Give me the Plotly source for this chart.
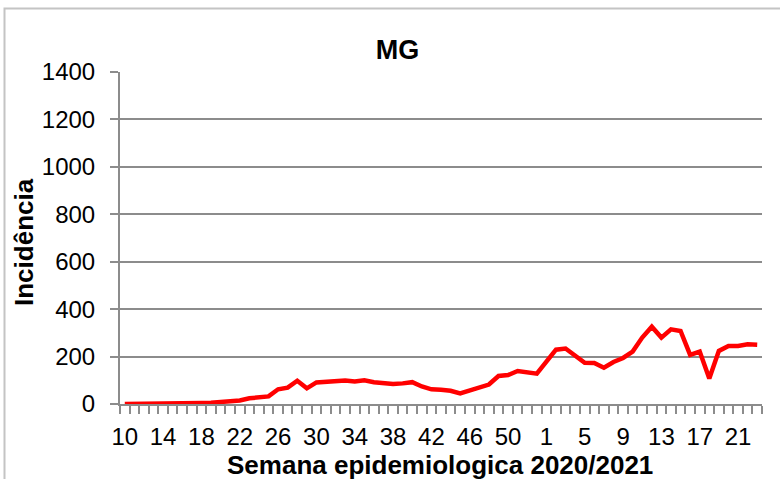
import plotly.graph_objects as go

weeks = [str(w) for w in range(10, 54)] + [str(w) for w in range(1, 24)]
incidencia = [0, 0, 1, 1, 1, 2, 2, 3, 4, 5, 7, 10, 15, 24, 27, 32, 62, 69, 98, 66,
              91, 95, 98, 99, 95, 100, 92, 87, 84, 87, 92, 74, 62, 60, 56, 45, 58, 66,
              82, 118, 122, 139, 134, 128,
              179, 229, 234, 203, 174, 173, 153, 177, 194, 221, 280, 326, 280, 315,
              308, 207, 221, 108, 224, 245, 245, 252, 250]
y_ticks = [0, 200, 400, 600, 800, 1000, 1200, 1400]

FONT = "Liberation Sans, Arial, sans-serif"
GRID = "#8c8c8c"

x_idx = list(range(len(weeks)))
tick_pos = x_idx[::4]
tick_txt = weeks[::4]

fig = go.Figure()
fig.add_trace(go.Scatter(x=x_idx, y=incidencia, mode="lines",
                         line=dict(color="#ff0000", width=4.5), hoverinfo="skip"))

W, H = 780, 479
L, R, T, B = 120, 18, 72, 75
pw, ph = W - L - R, H - T - B

fig.update_layout(
    width=W, height=H,
    margin=dict(l=L, r=R, t=T, b=B, pad=0),
    paper_bgcolor="white", plot_bgcolor="white",
    showlegend=False,
    font=dict(family=FONT, color="black"),
    title=dict(text="<b>MG</b>", x=397.5 / W, xref="container", xanchor="center",
               y=1 - 50 / H, yref="container", yanchor="middle",
               font=dict(family=FONT, size=27, color="black")),
    xaxis=dict(range=[-0.5, len(weeks) - 0.5], tickmode="array", tickvals=tick_pos,
               ticktext=tick_txt, ticks="", showgrid=False, zeroline=False,
               showline=True, linecolor=GRID, linewidth=2,
               tickfont=dict(family=FONT, size=24, color="black"),
               ticklabelstandoff=10,
               minor=dict(tickmode="linear", tick0=-0.5, dtick=1, ticks="outside",
                          ticklen=8, tickcolor=GRID, tickwidth=1.5, showgrid=False)),
    yaxis=dict(range=[0, 1400], tickmode="array", tickvals=y_ticks,
               showgrid=True, gridcolor=GRID, gridwidth=2, zeroline=False,
               showline=True, linecolor=GRID, linewidth=2,
               ticks="outside", ticklen=8, tickcolor=GRID, tickwidth=1.5,
               tickfont=dict(family=FONT, size=24, color="black"),
               ticklabelstandoff=10),
    annotations=[
        dict(text="<b>Incidência</b>", xref="paper", yref="paper",
             x=(24 - L) / pw, y=1 - (242 - T) / ph, xanchor="center", yanchor="middle",
             textangle=-90, showarrow=False, font=dict(family=FONT, size=26, color="black")),
        dict(text="<b>Semana epidemiologica 2020/2021</b>", xref="paper", yref="paper",
             x=(440 - L) / pw, y=1 - (465 - T) / ph, xanchor="center", yanchor="middle",
             showarrow=False, font=dict(family=FONT, size=26, color="black")),
    ],
    shapes=[dict(type="rect", xref="paper", yref="paper",
                 x0=(4.5 - L) / pw, x1=(790 - L) / pw,
                 y0=1 - (490 - T) / ph, y1=1 + (T - 8.5) / ph,
                 line=dict(color="#c4c4c4", width=2), layer="below")],
)

fig.write_html("out.html", config={"displayModeBar": False},
               post_script="document.body.style.margin='0px';document.body.style.overflow='hidden';")
